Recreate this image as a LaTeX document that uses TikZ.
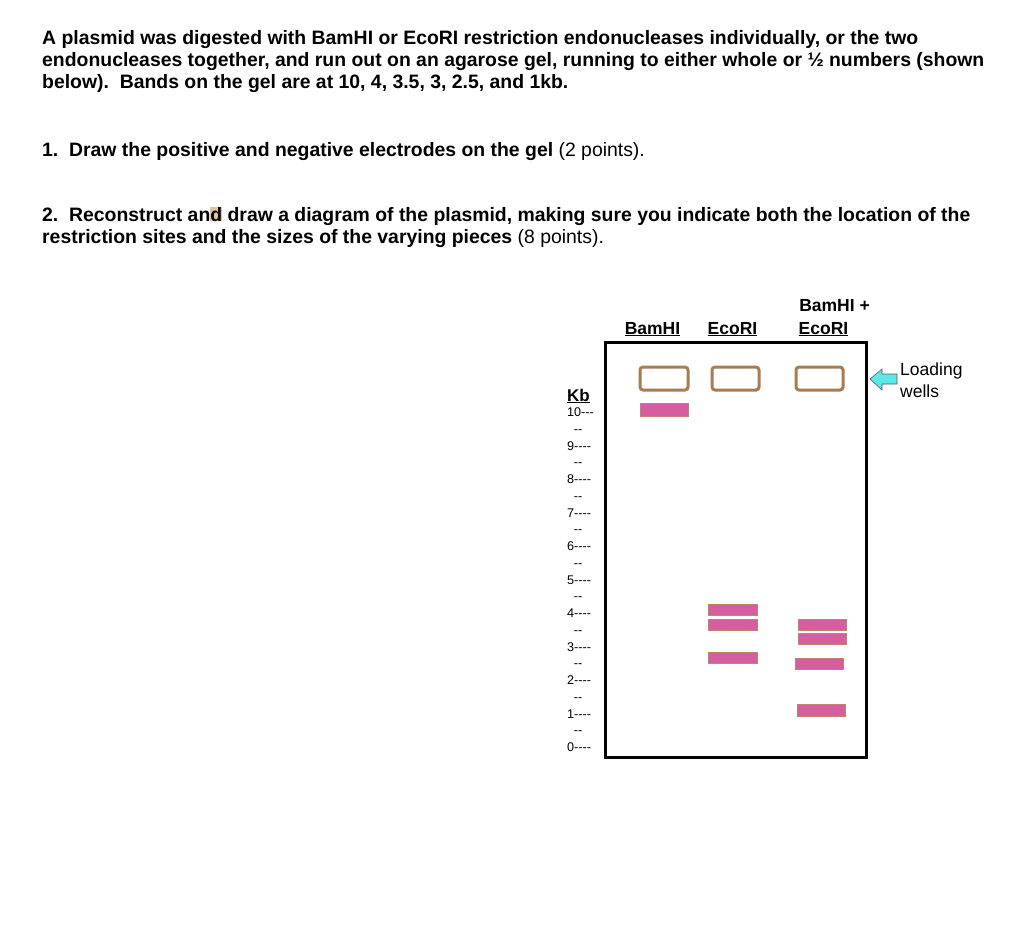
\documentclass[tikz,border=0pt]{standalone}
\usepackage{fontspec}
\setmainfont{Liberation Sans}
\definecolor{wellc}{RGB}{166,124,82}
\definecolor{bandc}{RGB}{212,94,158}
\definecolor{bandb}{RGB}{196,128,112}
\definecolor{arrc}{RGB}{90,232,232}
\definecolor{hl}{RGB}{222,196,160}
\tikzset{
  bodytext/.style={anchor=base west, inner sep=0pt, font=\fontsize{19.4}{22}\selectfont\bfseries},
  lanelab/.style={anchor=base, inner sep=0pt, font=\fontsize{17.5}{20}\selectfont\bfseries},
  kbtext/.style={anchor=base west, inner sep=0pt, font=\fontsize{12.6}{14}\selectfont},
  halfmark/.style={anchor=base, inner sep=0pt, font=\fontsize{12.6}{14}\selectfont},
  well/.style={draw=wellc, line width=3pt, rounded corners=3pt},
  band/.style={fill=bandc, draw=bandb, line width=0.8pt},
}
\begin{document}
\begin{tikzpicture}[x=1pt,y=-1pt]
\useasboundingbox (0,0) rectangle (1024,935);
\fill[white] (0,0) rectangle (1024,935);
% header text
\node[bodytext] (t1) at (42,44) {A plasmid was digested with BamHI or EcoRI restriction endonucleases individually, or the two};
\node[bodytext] (t2) at (42,66) {endonucleases together, and run out on an agarose gel, running to either whole or ½ numbers (shown};
\node[bodytext] (t3) at (42,88) {below).\ \ Bands on the gel are at 10, 4, 3.5, 3, 2.5, and 1kb.};
\node[bodytext] (q1) at (42,156) {1.\ \ Draw the positive and negative electrodes on the gel \mdseries(2 points).};
\node[bodytext] (q2a) at (42,221) {2.\ \ Reconstruct an{\fboxsep=0pt\colorbox{hl}{d}} draw a diagram of the plasmid, making sure you indicate both the location of the};
\node[bodytext] (q2b) at (42,243) {restriction sites and the sizes of the varying pieces \mdseries(8 points).};
% lane labels
\node[lanelab] (l1) at (652.5,334) {\underline{BamHI}};
\node[lanelab] (l2) at (732.5,334) {\underline{EcoRI}};
\node[lanelab] (l3a) at (834.5,311) {BamHI +};
\node[lanelab] (l3b) at (823.5,334) {\underline{EcoRI}};
% gel
\draw[line width=3pt] (605,342) rectangle (866,757);
% wells
\draw[well] (640,367) rectangle (688,390);
\draw[well] (712,367) rectangle (759,390);
\draw[well] (796,367) rectangle (843,390);
% bands
\draw[band] (640,403) rectangle (688,416);
\draw[band] (708,604) rectangle (757,615);
\draw[band] (708,619) rectangle (757,630);
\draw[band] (708,652) rectangle (757,663);
\draw[band] (798,619) rectangle (846,630);
\draw[band] (798,633) rectangle (846,644);
\draw[band] (795,658) rectangle (843,669);
\draw[band] (797,704) rectangle (845,716);
% loading wells arrow
\draw[fill=arrc, draw=gray!70!black, line width=0.6pt, line join=miter]
  (870,379) -- (882,369) -- (882,374) -- (897,374) -- (897,384) -- (882,384) -- (882,390) -- cycle;
\node[anchor=base west, inner sep=0pt, font=\fontsize{17.5}{20}\selectfont] (lw1) at (900,375) {Loading};
\node[anchor=base west, inner sep=0pt, font=\fontsize{17.5}{20}\selectfont] (lw2) at (900,397) {wells};
% Kb scale
\node[anchor=base west, inner sep=0pt, font=\fontsize{17}{19}\selectfont\bfseries] (kb) at (567,401) {\underline{Kb}};
\foreach \v/\y in {10/412,9/445.5,8/479,7/512.5,6/546,5/579.5,4/613,3/646.5,2/680,1/713.5,0/747}{
  \node[kbtext] at (567,\y+4.5) {\ifnum\v=10 10-{}-{}-\else \v-{}-{}-{}-\fi};
}
\foreach \y in {429,462,496,529,563,596,630,663,697,730}{
  \node[halfmark] at (578,\y+4.5) {-{}-};
}
\end{tikzpicture}
\end{document}
